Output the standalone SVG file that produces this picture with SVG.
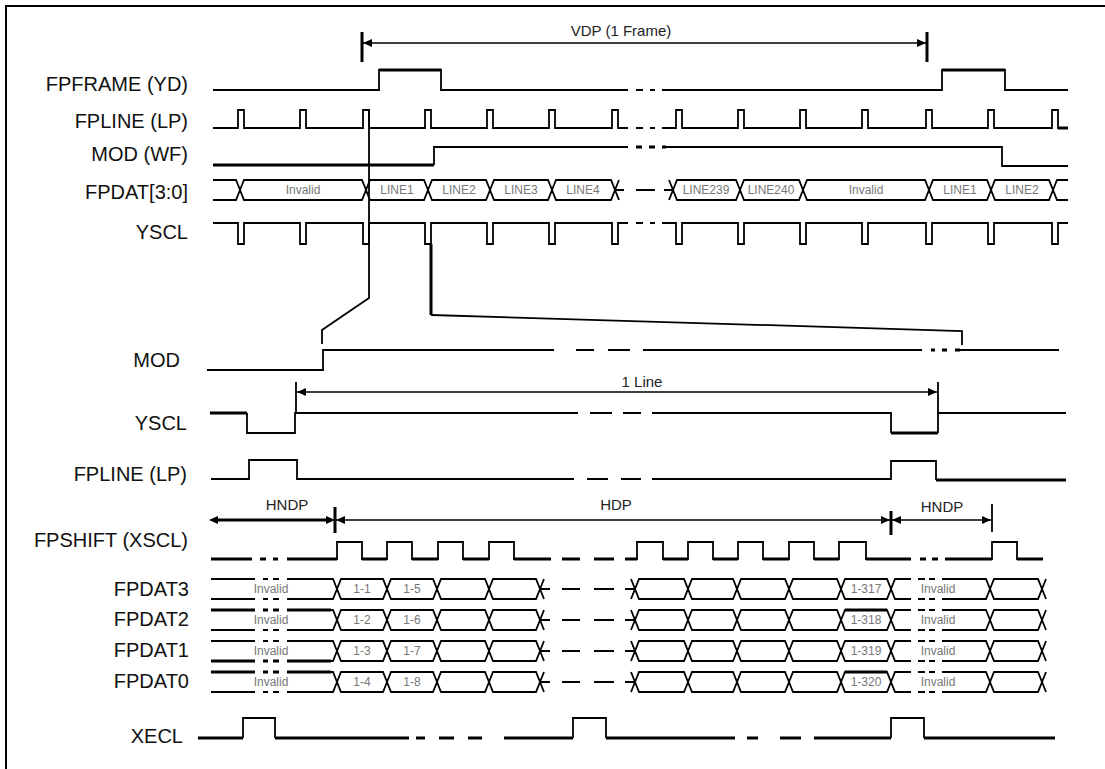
<svg xmlns="http://www.w3.org/2000/svg" xmlns:xlink="http://www.w3.org/1999/xlink" width="1105" height="769" viewBox="0 0 1105 769">
<style>
.w{fill:none;stroke:#000;stroke-width:1.8;stroke-linejoin:miter}
.k{fill:none;stroke:#000;stroke-width:3}
.lbl{font-family:"Liberation Sans",Arial,sans-serif;font-size:20px;text-anchor:end;fill:#111}
.cell{font-family:"Liberation Sans",Arial,sans-serif;font-size:12px;text-anchor:middle;fill:#777}
.ann{font-family:"Liberation Sans",Arial,sans-serif;font-size:15px;text-anchor:middle;fill:#222}
.arr{fill:none;stroke:#000;stroke-width:1.6;marker-start:url(#ah);marker-end:url(#ah)}
</style>
<defs>
<marker id="ah" viewBox="0 0 9 8" refX="9" refY="4" markerWidth="9" markerHeight="8" markerUnits="userSpaceOnUse" orient="auto-start-reverse"><path d="M0,0 L9,4 L0,8 z" fill="#000"/></marker>
<g id="busrow">
<path class="w" d="M211,0 H255 M263,0 H268 M273,0 H279 M287,0 H333 L337,10 M211,20 H255 M263,20 H268 M273,20 H279 M287,20 H333 L337,10"/>
<path class="w" d="M337,10 L341,0 H383 L387,10 L383,20 H341 Z M387,10 L391,0 H433 L437,10 L433,20 H391 Z M437,10 L441,0 H485 L489,10 L485,20 H441 Z M489,10 L493,0 H536 L540,10 L536,20 H493 Z"/>
<path class="w" d="M540,10 L544,0 M540,10 L544,20 M540,10 H550 M562,10 H580 M594,10 H614 M625,10 H635 M631,0 L635,10 L631,20"/>
<path class="w" d="M635,10 L639,0 H684 L688,10 L684,20 H639 Z M688,10 L692,0 H733 L737,10 L733,20 H692 Z M737,10 L741,0 H785 L789,10 L785,20 H741 Z M789,10 L793,0 H837 L841,10 L837,20 H793 Z M841,10 L845,0 H887 L891,10 L887,20 H845 Z"/>
<path class="w" d="M891,10 L895,0 H911 M918,0 H925 M929,0 H935 M942,0 H986 L990,10 M891,10 L895,20 H911 M918,20 H925 M929,20 H935 M942,20 H986 L990,10"/>
<path class="w" d="M990,10 L994,0 H1038 L1042,10 L1038,20 H994 Z M1042,10 L1046,0 M1042,10 L1046,20"/>
</g>
</defs>
<rect x="6" y="6" width="1120" height="790" fill="#fff" stroke="#000" stroke-width="2"/>

<g id="vdp-arrow">
<path class="k" d="M362,32 V62 M927,32 V62"/>
<path class="arr" d="M363,43 H926"/>
<text class="ann" x="621" y="36">VDP (1 Frame)</text>
</g>

<g id="sig-fpframe">
<text class="lbl" x="188" y="91">FPFRAME (YD)</text>
<path class="w" d="M213,90 H379 V70 H441 V90 H628 M636,90 H643 M650,90 H655 M662,90 H942 V70 H1005 V90 H1068"/>
<path class="k" d="M379,70 H441 M942,70 H1005"/>
</g>

<g id="sig-fpline">
<text class="lbl" x="188" y="128">FPLINE (LP)</text>
<path class="w" d="M213,128 H238 V110 H244 V128 H300 V110 H306 V128 H363 V110 H369 V128 H425 V110 H431 V128 H487 V110 H493 V128 H549 V110 H555 V128 H612 V110 H618 V128 H628 M636,128 H643 M650,128 H655 M662,128 H676 V110 H682 V128 H738 V110 H744 V128 H800 V110 H806 V128 H862 V110 H868 V128 H926 V110 H932 V128 H988 V110 H994 V128 H1052 V110 H1058 V128 H1068"/>
<path class="k" d="M1058,128 H1068"/>
</g>

<g id="sig-modwf">
<text class="lbl" x="188" y="161">MOD (WF)</text>
<path class="w" d="M434,165 V147 H628 M662,147 H1002 V166 H1068"/>
<path class="k" d="M213,165 H434 M636,147 H642 M649,147 H655 M662,147 H666"/>
</g>

<g id="sig-fpdat">
<text class="lbl" x="188" y="199">FPDAT[3:0]</text>
<path class="w" d="M213,180 H236 L240,190 L236,200 H213"/>
<path class="w" d="M240,190 L244,180 H362 L366,190 L362,200 H244 Z M366,190 L370,180 H424 L428,190 L424,200 H370 Z M428,190 L432,180 H486 L490,190 L486,200 H432 Z M490,190 L494,180 H548 L552,190 L548,200 H494 Z M552,190 L556,180 H611 L615,190 L611,200 H556 Z"/>
<path class="w" d="M615,190 L619,180 M615,190 L619,200 M615,190 H624 M636,190 H655 M664,190 H673 M669,180 L673,190 L669,200"/>
<path class="w" d="M673,190 L677,180 H736 L740,190 L736,200 H677 Z M740,190 L744,180 H799 L803,190 L799,200 H744 Z M803,190 L807,180 H925 L929,190 L925,200 H807 Z M929,190 L933,180 H987 L991,190 L987,200 H933 Z M991,190 L995,180 H1049 L1053,190 L1049,200 H995 Z"/>
<path class="w" d="M1053,190 L1057,180 H1068 M1053,190 L1057,200 H1068"/>
<text class="cell" x="303" y="194">Invalid</text>
<text class="cell" x="397" y="194">LINE1</text>
<text class="cell" x="459" y="194">LINE2</text>
<text class="cell" x="521" y="194">LINE3</text>
<text class="cell" x="583" y="194">LINE4</text>
<text class="cell" x="706" y="194">LINE239</text>
<text class="cell" x="771" y="194">LINE240</text>
<text class="cell" x="866" y="194">Invalid</text>
<text class="cell" x="960" y="194">LINE1</text>
<text class="cell" x="1022" y="194">LINE2</text>
</g>

<g id="sig-yscl-top">
<text class="lbl" x="188" y="239">YSCL</text>
<path class="w" d="M213,223 H238 V244 H244 V223 H300 V244 H306 V223 H363 V244 H369 V223 H425 V244 H431 V223 H487 V244 H493 V223 H549 V244 H555 V223 H612 V244 H618 V223 H628 M636,223 H643 M650,223 H655 M662,223 H676 V244 H682 V223 H738 V244 H744 V223 H800 V244 H806 V223 H862 V244 H868 V223 H926 V244 H932 V223 H988 V244 H994 V223 H1052 V244 H1058 V223 H1068"/>
</g>

<g id="connectors">
<path class="w" d="M369,110 V298 L322,330 V344"/>
<path class="k" d="M431,244 V315"/>
<path class="w" d="M431,315 L962,331 V345"/>
</g>

<g id="sig-mod">
<text class="lbl" x="180" y="367">MOD</text>
<path class="w" d="M207,370 H323 V350 H554 M576,350 H594 M608,350 H630 M643,350 H922 M960,350 H1059"/>
<path class="k" d="M931,350 H935 M942,350 H947 M955,350 H960"/>
</g>

<g id="line-arrow">
<path class="w" d="M296,382 V413 M938,382 V413"/>
<path class="arr" d="M297,392 H937"/>
<text class="ann" x="642" y="387">1 Line</text>
</g>

<g id="sig-yscl">
<text class="lbl" x="187" y="430">YSCL</text>
<path class="w" d="M247,413 V433 H295 V413 H578 M590,413 H612 M623,413 H641 M652,413 H891 V433 M938,433 V413 H1066"/>
<path class="k" d="M210,413 H247 M891,433 H938"/>
</g>

<g id="sig-fpline-b">
<text class="lbl" x="187" y="481">FPLINE (LP)</text>
<path class="w" d="M211,479 H249 V460 H297 V479 H574 M587,479 H608 M621,479 H641 M652,479 H891 V461 H936 V480"/>
<path class="k" d="M936,480 H1066"/>
</g>

<g id="hdp-arrows">
<path class="k" d="M213,520 H331 M335,507 V533 M891,511 V535"/>
<path fill="#000" d="M209,520 L218,516 L218,524 Z M335,520 L326,516 L326,524 Z"/>
<path class="arr" d="M336,520 H890"/>
<path class="arr" d="M892,520 H991"/>
<path class="w" d="M992,504 V532"/>
<text class="ann" x="287" y="510">HNDP</text>
<text class="ann" x="616" y="510">HDP</text>
<text class="ann" x="942" y="512">HNDP</text>
</g>

<g id="sig-fpshift">
<text class="lbl" x="188" y="547">FPSHIFT (XSCL)</text>
<path class="w" d="M287,559 H337 V542 H362 V559 H387 V542 H412 V559 H438 V542 H463 V559 H489 V542 H514 V559 H551 M625,559 H637 V542 H663 V559 H688 V542 H713 V559 H738 V542 H763 V559 H789 V542 H814 V559 H839 V542 H866 V559 H911 M945,559 H992 V542 H1017 V559 H1043"/>
<path class="k" d="M211,559 H252 M260,559 H266 M273,559 H278 M287,559 H337 M362,559 H387 M412,559 H438 M463,559 H489 M514,559 H551 M562,559 H580 M594,559 H614 M625,559 H637 M663,559 H688 M713,559 H738 M763,559 H789 M814,559 H839 M866,559 H911 M920,559 H926 M932,559 H938 M945,559 H992 M1017,559 H1043"/>
</g>

<g id="sig-fpdat3">
<text class="lbl" x="189" y="596">FPDAT3</text>
<use xlink:href="#busrow" href="#busrow" y="579"/>
<text class="cell" x="271" y="593">Invalid</text>
<text class="cell" x="362" y="593">1-1</text>
<text class="cell" x="412" y="593">1-5</text>
<text class="cell" x="866" y="593">1-317</text>
<text class="cell" x="938" y="593">Invalid</text>
</g>

<g id="sig-fpdat2">
<text class="lbl" x="189" y="626">FPDAT2</text>
<use xlink:href="#busrow" href="#busrow" y="610"/>
<path class="k" d="M211,610 H255 M263,610 H268 M273,610 H279 M287,610 H331 M845,610 H887"/>
<text class="cell" x="271" y="624">Invalid</text>
<text class="cell" x="362" y="624">1-2</text>
<text class="cell" x="412" y="624">1-6</text>
<text class="cell" x="866" y="624">1-318</text>
<text class="cell" x="938" y="624">Invalid</text>
</g>

<g id="sig-fpdat1">
<text class="lbl" x="189" y="657">FPDAT1</text>
<use xlink:href="#busrow" href="#busrow" y="641"/>
<path class="k" d="M211,661 H255 M263,661 H268 M273,661 H279 M287,661 H331"/>
<text class="cell" x="271" y="655">Invalid</text>
<text class="cell" x="362" y="655">1-3</text>
<text class="cell" x="412" y="655">1-7</text>
<text class="cell" x="866" y="655">1-319</text>
<text class="cell" x="938" y="655">Invalid</text>
</g>

<g id="sig-fpdat0">
<text class="lbl" x="189" y="688">FPDAT0</text>
<use xlink:href="#busrow" href="#busrow" y="672"/>
<path class="k" d="M211,672 H255 M263,672 H268 M273,672 H279 M287,672 H331 M845,672 H887"/>
<text class="cell" x="271" y="686">Invalid</text>
<text class="cell" x="362" y="686">1-4</text>
<text class="cell" x="412" y="686">1-8</text>
<text class="cell" x="866" y="686">1-320</text>
<text class="cell" x="938" y="686">Invalid</text>
</g>

<g id="sig-xecl">
<text class="lbl" x="183" y="743">XECL</text>
<path class="w" d="M243,738 V718 H275 V738 M573,738 V718 H606 V738 M891,738 V718 H924 V738"/>
<path class="k" d="M198,738 H243 M275,738 H409 M416,738 H425 M439,738 H454 M468,738 H482 M504,738 H573 M606,738 H735 M747,738 H758 M780,738 H801 M814,738 H891 M924,738 H1055"/>
</g>
</svg>
